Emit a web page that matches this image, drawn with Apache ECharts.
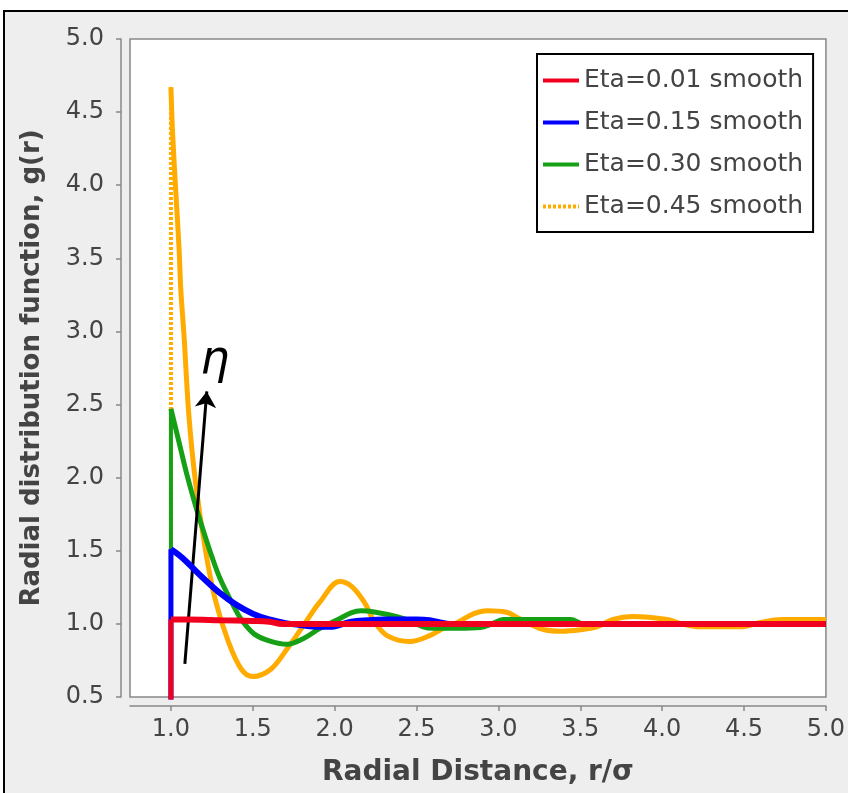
<!DOCTYPE html>
<html>
<head>
<meta charset="utf-8">
<script src="https://cdn.jsdelivr.net/npm/echarts@6/dist/echarts.min.js"></script>
<style>html,body{margin:0;padding:0;background:#fff;}#c{width:848px;height:793px;}</style>
</head>
<body>
<div id="c"></div>
<script>
// ---- data ----
const names = ['Eta=0.01 smooth', 'Eta=0.15 smooth', 'Eta=0.30 smooth', 'Eta=0.45 smooth'];
const xTicks = [1.0, 1.5, 2.0, 2.5, 3.0, 3.5, 4.0, 4.5, 5.0];

const r001 = [1.0, 1.1, 1.3, 1.5, 1.6, 1.68, 1.8, 2.0, 3.0, 4.0, 5.0];
const g001 = [1.03, 1.03, 1.025, 1.02, 1.015, 1.0, 1.0, 1.0, 1.0, 1.0, 1.0];

const r015 = [1.0, 1.05, 1.1, 1.2, 1.3, 1.4, 1.5, 1.6, 1.7, 1.8, 1.9, 1.97, 2.1, 2.2, 2.3, 2.4, 2.5, 2.58, 2.7, 3.0, 4.0, 5.0];
const g015 = [1.51, 1.47, 1.42, 1.31, 1.21, 1.13, 1.07, 1.03, 1.005, 0.99, 0.98, 0.98, 1.015, 1.025, 1.03, 1.03, 1.03, 1.025, 1.0, 1.0, 1.0, 1.0];

const r030 = [1.0, 1.05, 1.1, 1.15, 1.2, 1.25, 1.3, 1.37, 1.43, 1.51, 1.61, 1.71, 1.81, 1.91, 2.02, 2.1, 2.16, 2.25, 2.38, 2.46, 2.54, 2.6, 2.75, 2.89, 2.96, 3.03, 3.2, 3.44, 3.52, 4.0, 5.0];
const g030 = [2.47, 2.24, 2.01, 1.81, 1.63, 1.46, 1.31, 1.15, 1.03, 0.93, 0.88, 0.86, 0.90, 0.97, 1.03, 1.075, 1.09, 1.08, 1.05, 1.02, 0.98, 0.97, 0.97, 0.975, 1.0, 1.03, 1.03, 1.03, 1.0, 1.0, 1.0];

const r045 = [1.0, 1.01, 1.03, 1.05, 1.06, 1.08, 1.11, 1.15, 1.21, 1.27, 1.35, 1.43, 1.5, 1.61, 1.71, 1.81, 1.91, 2.03, 2.10, 2.18, 2.24, 2.32, 2.46, 2.58, 2.68, 2.75, 2.85, 2.93, 3.05, 3.12, 3.19, 3.28, 3.39, 3.5, 3.6, 3.70, 3.82, 4.03, 4.12, 4.23, 4.49, 4.60, 4.73, 5.0];
const g045 = [4.67, 4.36, 3.95, 3.56, 3.29, 2.97, 2.42, 1.97, 1.51, 1.17, 0.88, 0.69, 0.64, 0.69, 0.83, 0.99, 1.15, 1.29, 1.26, 1.15, 1.02, 0.92, 0.88, 0.92, 0.98, 1.01, 1.07, 1.09, 1.08, 1.04, 1.0, 0.96, 0.95, 0.96, 0.98, 1.03, 1.05, 1.03, 1.0, 0.98, 0.98, 1.01, 1.03, 1.03];

// contact jumps at r = sigma (from g = 0 up to the contact value)
const contactR = [1.0, 1.0, 1.0, 1.0];
const contactG = [1.03, 1.51, 2.47, 4.67];

// annotation arrow (data coordinates) and label
const arrowFrom = [1.085, 0.726];
const arrowTo = [1.219, 2.59];
const etaAt = [1.268, 2.80];

const colors = ['#f0001e', '#0000ff', '#15a015', '#ffab00'];
const widths = [6, 6, 5, 5];

function pairs(xs, ys) { return xs.map((x, i) => [x, ys[i]]); }

const curves = [pairs(r001, g001), pairs(r015, g015), pairs(r030, g030), pairs(r045, g045)];

const series = [];
// orange contact jump first so its legend icon is dotted
series.push({
  name: names[3], type: 'line', symbol: 'none', z: 2, silent: true,
  data: [[contactR[3], 0], [contactR[3], contactG[3]]],
  lineStyle: { color: colors[3], width: 4, type: [3, 2] },
  itemStyle: { color: colors[3] }
});
series.push({
  name: names[3], type: 'line', symbol: 'none', z: 2, silent: true, smooth: 0.35,
  data: curves[3],
  lineStyle: { color: colors[3], width: widths[3] },
  itemStyle: { color: colors[3] }
});
const zs = [6, 5, 4, 3];
for (let i = 2; i >= 0; i--) {
  series.push({
    name: names[i], type: 'line', symbol: 'none', z: zs[i], silent: true, smooth: 0.35,
    data: curves[i],
    lineStyle: { color: colors[i], width: widths[i] },
    itemStyle: { color: colors[i] }
  });
  series.push({
    name: names[i], type: 'line', symbol: 'none', z: zs[i], silent: true,
    data: [[contactR[i], 0], [contactR[i], contactG[i]]],
    lineStyle: { color: colors[i], width: widths[i] - 1 },
    itemStyle: { color: colors[i] }
  });
}
// annotation on top
series.push({
  name: 'annotation', type: 'line', symbol: 'none', z: 10, silent: true, data: [],
  markLine: {
    silent: true, symbol: ['none', 'arrow'], symbolSize: 16,
    label: { show: false },
    lineStyle: { color: '#000', width: 3, type: 'solid' },
    emphasis: { disabled: true },
    data: [[{ coord: arrowFrom }, { coord: arrowTo }]]
  },
  markPoint: {
    silent: true, symbol: 'circle', symbolSize: 0,
    label: { show: true, position: 'inside', formatter: 'η', fontSize: 46, fontStyle: 'italic', fontFamily: 'DejaVu Sans', color: '#000' },
    data: [{ coord: etaAt }]
  }
});

const chart = echarts.init(document.getElementById('c'), null, { renderer: 'canvas' });
chart.setOption({
  backgroundColor: '#ffffff',
  animation: false,
  graphic: [{
    type: 'rect', z: -10, silent: true,
    shape: { x: 4, y: 11, width: 900, height: 850 },
    style: { fill: '#eeeeee', stroke: '#000', lineWidth: 2 }
  }],
  grid: { left: 130, right: 19, top: 39, bottom: 96, show: true, backgroundColor: '#fff', borderColor: '#888', borderWidth: 1.5 },
  legend: {
    data: names, orient: 'vertical', left: 537, top: 54,
    backgroundColor: '#fff', borderColor: '#000', borderWidth: 2, borderRadius: 0,
    padding: [14, 10, 13, 4], itemGap: 17, itemWidth: 36, itemHeight: 14,
    selectedMode: false,
    itemStyle: { opacity: 0 },
    lineStyle: { width: 4 },
    textStyle: { fontFamily: 'DejaVu Sans', fontSize: 25, color: '#444' }
  },
  xAxis: {
    type: 'value', min: 0.75, max: 5.0, offset: 9,
    name: 'Radial Distance, r/σ', nameLocation: 'middle', nameGap: 53,
    nameTextStyle: { fontFamily: 'DejaVu Sans', fontSize: 28, fontWeight: 'bold', color: '#444' },
    axisLine: { show: true, lineStyle: { color: '#888', width: 1.5 } },
    axisTick: { show: true, inside: false, length: 5, lineStyle: { color: '#888', width: 1.5 }, customValues: xTicks },
    axisLabel: { customValues: xTicks, margin: 12, fontFamily: 'DejaVu Sans', fontSize: 24, color: '#444', formatter: v => v.toFixed(1) },
    splitLine: { show: false }
  },
  yAxis: {
    type: 'value', min: 0.5, max: 5.0, interval: 0.5, offset: 9,
    name: 'Radial distribution function, g(r)', nameLocation: 'middle', nameGap: 76, nameRotate: 90,
    nameTextStyle: { fontFamily: 'DejaVu Sans', fontSize: 26, fontWeight: 'bold', color: '#444' },
    axisLine: { show: true, lineStyle: { color: '#888', width: 1.5 } },
    axisTick: { show: true, inside: false, length: 5, lineStyle: { color: '#888', width: 1.5 } },
    axisLabel: { margin: 17, fontFamily: 'DejaVu Sans', fontSize: 24, color: '#444', formatter: v => v.toFixed(1) },
    splitLine: { show: false }
  },
  series: series
});
</script>
</body>
</html>
